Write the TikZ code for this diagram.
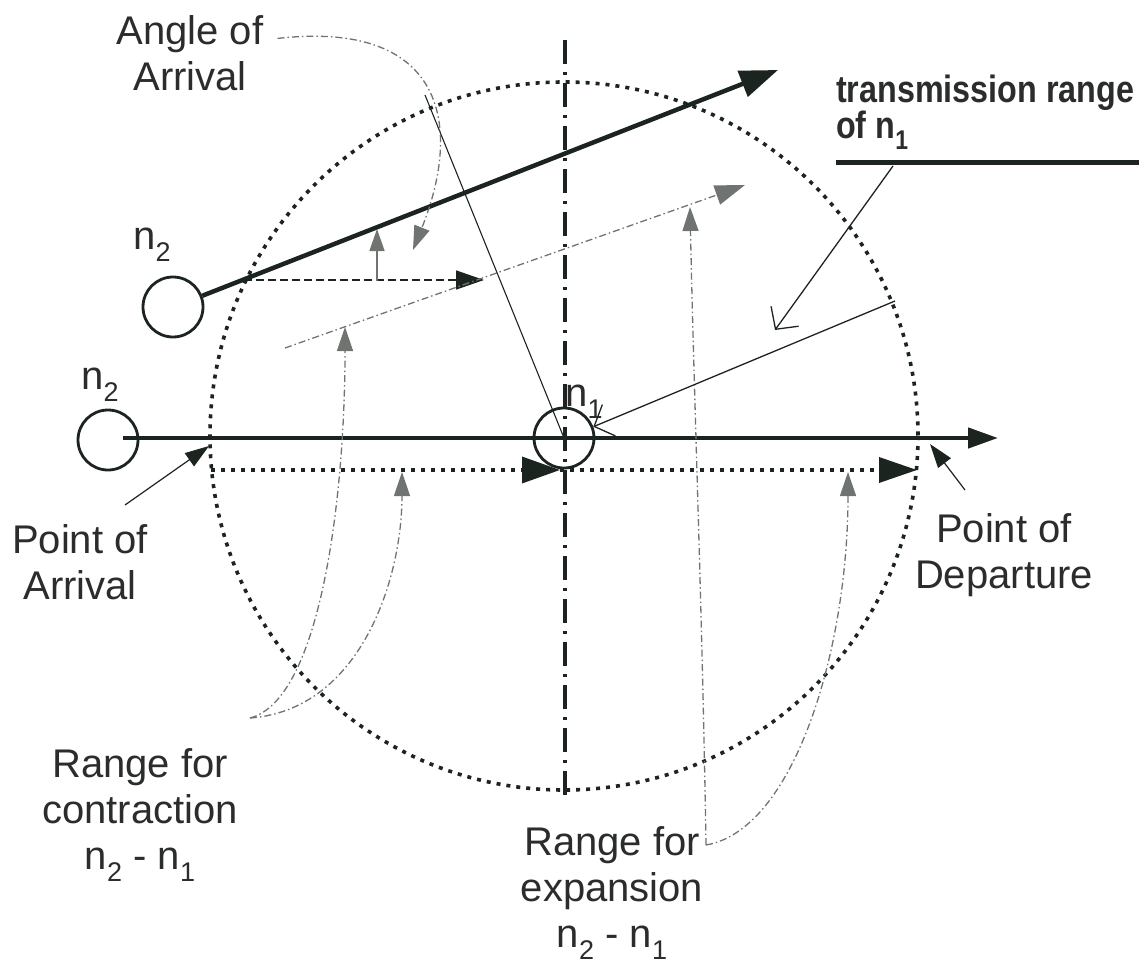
\documentclass[tikz,border=0pt]{standalone}
\usepackage{fontspec}
\setmainfont{Liberation Sans}
\newfontfamily\narrowbold{Liberation Sans}[FakeStretch=0.85]
\usetikzlibrary{arrows.meta}
\definecolor{my_ink}{HTML}{1C2420}
\definecolor{my_text}{HTML}{2A2D2B}
\definecolor{my_gray}{HTML}{6F7471}
\newcommand{\nsub}[1]{n\raisebox{-0.3em}{\fontsize{27}{27}\selectfont #1}}

\begin{document}
\begin{tikzpicture}[
    x=1pt, y=-1pt,
    font=\fontsize{40}{46}\selectfont,
    ray/.style={-{Triangle[length=38pt, width=27pt]}, line width=4.5pt, my_ink},
    rangeline/.style={line width=3.6pt, dash pattern=on 4pt off 6pt, my_ink},
    axis/.style={line width=4pt, dash pattern=on 24pt off 8pt on 3pt off 8pt, my_ink},
    guide/.style={-{Triangle[length=24pt, width=16pt]}, line width=1.3pt, my_gray,
        dash pattern=on 7pt off 3pt on 1.5pt off 3pt},
    station/.style={circle, draw=my_ink, line width=2.8pt, minimum size=60pt, inner sep=0pt},
    openarr/.style={-{Straight Barb[length=16pt, width=34pt]}, line width=1.3pt, my_ink},
    txt/.style={align=center, inner sep=0pt, text=my_text}
]
\useasboundingbox (0,0) rectangle (1139,968);

% ===== Sendebereich von n1 und Achse =====
\coordinate (m) at (564,436);
\draw[rangeline] (m) circle[radius=354];
\draw[axis] (565,40) -- (565,800);

% ===== Knoten =====
\node[station] (n1) at (564,438) {};
\node[station] (n2a) at (173,307) {};
\node[station] (n2b) at (108,440) {};
\node[txt] (n1l) at (584,402) {\nsub{1}};
\node[txt] (n2al) at (152,245) {\nsub{2}};
\node[txt] (n2bl) at (100,385) {\nsub{2}};

% Punkte auf dem Kreis
\coordinate (pa) at (209,446);
\coordinate (pd) at (930,444);
\coordinate (ua) at (244,280);
\coordinate (tc) at (895,301);

% ===== Bewegungen =====
\draw[ray] (n2a.21.4) -- (778,70);
\draw[ray, -{Triangle[length=30pt, width=20pt]}] (123,438) -- (998,438);

% Bereich Kontraktion / Expansion
\draw[rangeline, -{Triangle[length=38pt, width=26pt]}] (211,470) -- (560,470);
\draw[rangeline, -{Triangle[length=38pt, width=25pt]}] (560,470) -- (917,470);

% Ankunftswinkel
\draw[line width=1.5pt, dash pattern=on 8pt off 4pt, my_ink,
    -{Triangle[length=28pt, width=19pt]}] (ua) -- (484,280);
\draw[my_gray, line width=1.5pt, -{Triangle[length=22pt, width=15pt]}] (377,281) -- (377,229);
\draw[guide, -{Triangle[length=30pt, width=20pt]}] (285,348) -- (745,185);
\draw[my_ink, line width=1.1pt] (425,95) -- (n1.center);

% ===== Beschriftungen =====
\node[txt] (aoa) at (190,53) {Angle of\\Arrival};
\node[txt] (poa) at (80,562) {Point of\\Arrival};
\node[txt] (pod) at (1004,555) {Point of\\Departure};
\node[txt] (rc) at (140,815) {Range for\\contraction\\\nsub{2} - \nsub{1}};
\node[txt] (re) at (612,893) {Range for\\expansion\\\nsub{2} - \nsub{1}};
\node[txt, align=left, anchor=south west, font=\fontsize{38}{36}\selectfont]
    (tr) at (836,150) {\narrowbold\bfseries transmission range\\\narrowbold\bfseries of \nsub{1}};

% Hinweispfeile
\draw[guide, shorten <=14pt] (aoa.10) .. controls (440,20) and (465,120) .. (413,250);
\draw[my_ink, line width=1.2pt, -{Triangle[length=24pt, width=16pt]}] (125,505) -- (pa);
\draw[my_ink, line width=1.2pt, -{Triangle[length=24pt, width=16pt]}] (965,490) -- (pd);
\coordinate (rcs) at (250,718);
\draw[guide] (rcs) .. controls (320,700) and (345,500) .. (345,327);
\draw[guide] (rcs) .. controls (360,710) and (402,580) .. (402,472);
\coordinate (res) at (706,845);
\draw[guide] (res) .. controls (702,600) and (694,400) .. (690,207);
\draw[guide] (res) .. controls (794,830) and (848,650) .. (848,472);

% Sendereichweite
\draw[my_ink, line width=5pt] (836,163) -- (1139,163);
\draw[openarr] (893,166) -- (775,330);
\draw[openarr, {Straight Barb[length=16pt, width=34pt]}-] (n1.21) -- (tc);

\end{tikzpicture}
\end{document}
